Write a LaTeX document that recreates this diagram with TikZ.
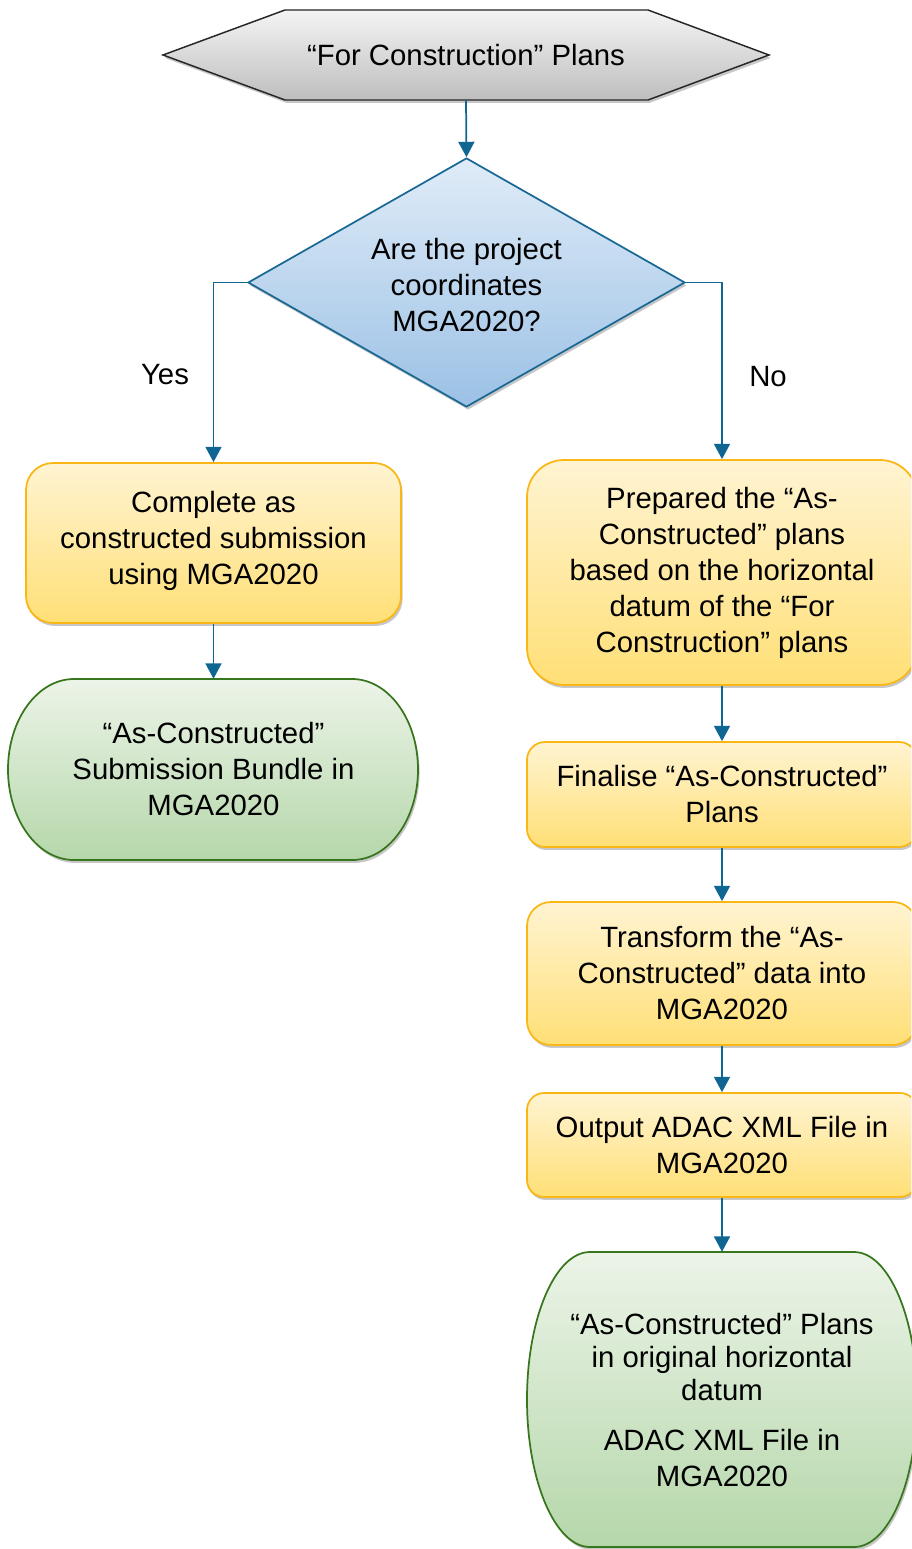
\documentclass[tikz,border=0pt]{standalone}
\usepackage{fontspec}
\setmainfont{Liberation Sans}
\usetikzlibrary{arrows.meta,shapes.geometric,shadows}
\definecolor{arrowc}{RGB}{16,102,146}
\definecolor{hextop}{RGB}{244,244,244}
\definecolor{hexbot}{RGB}{190,190,190}
\definecolor{diatop}{RGB}{224,236,248}
\definecolor{diabot}{RGB}{155,193,229}
\definecolor{diaedge}{RGB}{26,104,148}
\definecolor{yeltop}{RGB}{255,244,210}
\definecolor{yelbot}{RGB}{255,223,118}
\definecolor{yeledge}{RGB}{250,182,20}
\definecolor{grntop}{RGB}{236,244,232}
\definecolor{grnbot}{RGB}{181,215,170}
\definecolor{grnedge}{RGB}{56,118,29}
\pgfdeclarelayer{bg}
\pgfsetlayers{bg,main}
\begin{document}
\begin{tikzpicture}[x=0.75pt,y=-0.75pt,
  font=\fontsize{22}{27}\selectfont,
  shad/.style={drop shadow={opacity=0.22,shadow xshift=1.2pt,shadow yshift=-2.2pt,fill=black}},
  proc/.style={rectangle, draw=yeledge, line width=1.3pt, top color=yeltop, bottom color=yelbot,
    align=center, inner sep=0pt, shad},
  txt/.style={rectangle, draw=none, align=center, inner sep=0pt},
  term/.style={draw=grnedge, line width=1.3pt, top color=grntop, bottom color=grnbot, shad},
  conn/.style={draw=arrowc, line width=1.3pt, -{Triangle[width=12pt,length=11.5pt]}}
]
\clip (0,0) rectangle (911,1549);
\begin{pgfonlayer}{bg}
\fill[white] (0,0) rectangle (911,1549);
\end{pgfonlayer}

% start hexagon
\node[txt, minimum width=606*0.75pt, minimum height=90*0.75pt] (start) at (466,55) {“For Construction” Plans};
\begin{pgfonlayer}{bg}
\path[draw=black!85, line width=1.1pt, top color=hextop, bottom color=hexbot, shad]
  (163,55) -- (285,10) -- (648,10) -- (769,55) -- (648,100) -- (285,100) -- cycle;
\end{pgfonlayer}

% decision
\node[diamond, draw=diaedge, line width=1.3pt, top color=diatop, bottom color=diabot,
  minimum width=437*0.75pt, minimum height=249*0.75pt, shape aspect=1.755, inner sep=0pt,
  align=center, shad] (dec) at (466.5,282.5) {};
\node[txt] (dectext) at (466.5,285) {Are the project\\coordinates\\MGA2020?};

% left branch
\node[proc, minimum width=375*0.75pt, minimum height=160*0.75pt, rounded corners=27*0.75pt]
  (yesbox) at (213.5,543) {Complete as\\constructed submission\\using MGA2020\\[-19pt]};

\node[txt, minimum width=410*0.75pt, minimum height=181*0.75pt] (endL) at (213.5,769.5)
  {“As-Constructed”\\Submission Bundle in\\MGA2020};
\begin{pgfonlayer}{bg}
\path[term] (74,679) -- (352,679) arc[start angle=-90,end angle=90,x radius=66,y radius=90.5]
  -- (74,860) arc[start angle=90,end angle=270,x radius=66,y radius=90.5] -- cycle;
\end{pgfonlayer}

% right branch
\node[proc, minimum width=390*0.75pt, minimum height=225*0.75pt, rounded corners=37*0.75pt]
  (nobox) at (722,572.5) {Prepared the “As-\\Constructed” plans\\based on the horizontal\\datum of the “For\\Construction” plans};
\node[proc, minimum width=390*0.75pt, minimum height=105*0.75pt, rounded corners=18*0.75pt]
  (fin) at (722,794.5) {Finalise “As-Constructed”\\Plans};
\node[proc, minimum width=390*0.75pt, minimum height=143*0.75pt, rounded corners=24*0.75pt]
  (trans) at (722,973.5) {Transform the “As-\\Constructed” data into\\MGA2020};
\node[proc, minimum width=390*0.75pt, minimum height=104*0.75pt, rounded corners=17*0.75pt]
  (outp) at (722,1145) {Output ADAC XML File in\\MGA2020};

\node[txt, minimum width=390*0.75pt, minimum height=295*0.75pt] (endR) at (722,1399.5)
  {“As-Constructed” Plans\\[-2pt]in original horizontal\\[-2pt]datum\\[10pt]ADAC XML File in\\MGA2020};
\begin{pgfonlayer}{bg}
\path[term] (590,1252) -- (854,1252) arc[start angle=-90,end angle=90,x radius=63,y radius=147.5]
  -- (590,1547) arc[start angle=90,end angle=270,x radius=63,y radius=147.5] -- cycle;
\end{pgfonlayer}

% labels
\node[txt] (yeslbl) at (165,375) {Yes};
\node[txt] (nolbl) at (768,377) {No};

% connectors
\draw[conn] (start.south) -- (dec.north);
\draw[conn] (dec.west) -| (yesbox.north);
\draw[conn] (dec.east) -| (nobox.north);
\draw[conn] (yesbox.south) -- (endL.north);
\draw[conn] (nobox.south) -- (fin.north);
\draw[conn] (fin.south) -- (trans.north);
\draw[conn] (trans.south) -- (outp.north);
\draw[conn] (outp.south) -- (endR.north);
\end{tikzpicture}
\end{document}
